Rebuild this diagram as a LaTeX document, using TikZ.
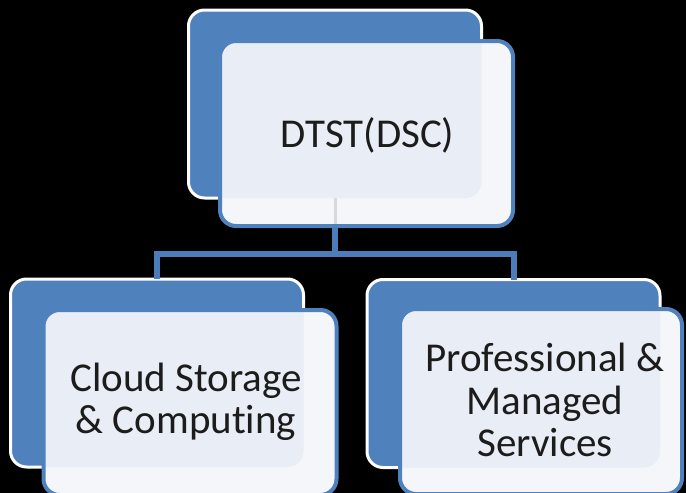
\documentclass[tikz,border=0pt]{standalone}
\usepackage{fontspec}
\setmainfont{Carlito}[RawFeature={-liga;-clig;-dlig}]
\definecolor{boxblue}{HTML}{4F81BD}
\definecolor{lineblue}{HTML}{4A7DBA}
\definecolor{frontfill}{HTML}{F4F6FA}
\definecolor{overlapfill}{HTML}{E9EDF5}
\definecolor{ghostline}{HTML}{DAD7DD}
\definecolor{txt}{HTML}{1C1C1C}
\begin{document}
\begin{tikzpicture}[x=1pt,y=-1pt,
  backbox/.style={draw=white, line width=3pt, fill=boxblue, rounded corners=16pt,
    minimum width=293pt, minimum height=188pt, inner sep=0pt, outer sep=0pt},
  frontbox/.style={draw=none, fill=frontfill, rounded corners=16pt,
    minimum width=293pt, minimum height=185pt, inner sep=0pt, outer sep=0pt},
  frontborder/.style={draw=boxblue, line width=4pt, rounded corners=16pt},
  label/.style={align=center, text=txt, inner sep=0pt,
    font=\fontsize{41}{42.5}\selectfont},
  conn/.style={draw=lineblue, line width=6pt, line join=miter}]
\fill[black] (0,0) rectangle (686,493);
\path[clip] (0,0) rectangle (686,493);
% back boxes
\node[backbox] (tb) at (335,104) {};
\node[backbox] (bl) at (157,373) {};
\node[backbox] (br) at (513.5,373.5) {};
% connectors
\path (tb.south) ++(0,56) coordinate (jn);
\draw[conn] (tb.south) -- (jn);
\draw[conn] (bl.north) |- (jn) -| (br.north);
% front boxes
\node[frontbox] (tf) at (366.5,133.5) {};
\node[frontbox] (lf) at (190,402.5) {};
\node[frontbox, minimum width=282pt] (rf) at (541,401.5) {};
% see-through tint where front boxes overlap back boxes
\begin{scope}
  \clip[rounded corners=16pt] (tf.south west) rectangle (tf.north east);
  \fill[overlapfill, rounded corners=16pt] (tb.south west) rectangle (tb.north east);
  \draw[ghostline, line width=3pt] (tb.south) -- (jn);
\end{scope}
\begin{scope}
  \clip[rounded corners=16pt] (lf.south west) rectangle (lf.north east);
  \fill[overlapfill, rounded corners=16pt] (bl.south west) rectangle (bl.north east);
\end{scope}
\begin{scope}
  \clip[rounded corners=16pt] (rf.south west) rectangle (rf.north east);
  \fill[overlapfill, rounded corners=16pt] (br.south west) rectangle (br.north east);
\end{scope}
\draw[frontborder] (tf.south west) rectangle (tf.north east);
\draw[frontborder] (lf.south west) rectangle (lf.north east);
\draw[frontborder] (rf.south west) rectangle (rf.north east);
% labels
\node[label] (tt) at (367.5,135) {DTST(DSC)};
\node[label] (lt) at (186,402) {Cloud Storage\\\& Computing};
\node[label] (rt) at (545,400) {Professional \&\\Managed\\Services};
\end{tikzpicture}
\end{document}
